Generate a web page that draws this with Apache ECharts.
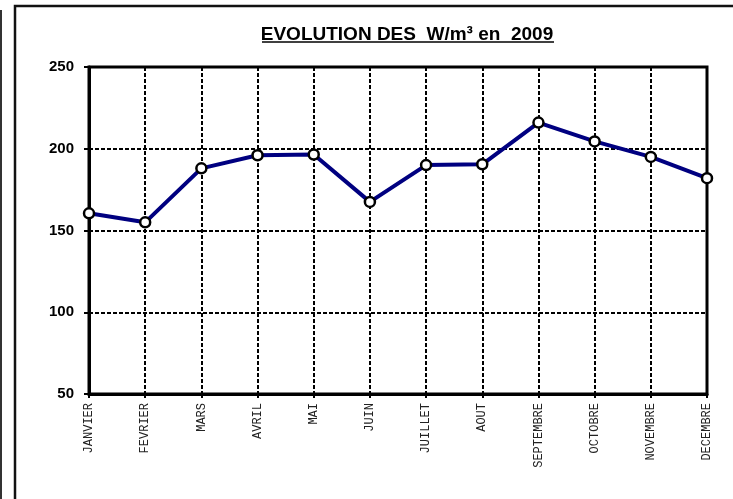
<!DOCTYPE html>
<html>
<head>
<meta charset="utf-8">
<script src="https://cdn.jsdelivr.net/npm/echarts@6/dist/echarts.min.js"></script>
<style>
  html, body { margin: 0; padding: 0; background: #fff; }
  #chart { width: 733px; height: 499px; }
</style>
</head>
<body>
<div id="chart"></div>
<script>
// donnees
var mois = ['JANVIER', 'FEVRIER', 'MARS', 'AVRIL', 'MAI', 'JUIN', 'JUILLET', 'AOUT', 'SEPTEMBRE', 'OCTOBRE', 'NOVEMBRE', 'DECEMBRE'];
var valeurs = [160.5, 155, 188, 196, 196.5, 167.5, 190, 190.5, 216, 204.5, 195, 182];
var titre = 'EVOLUTION DES  W/m³ en  2009';

var myChart = echarts.init(document.getElementById('chart'));

var dashed = { color: '#000', width: 2, type: [4, 2] };

var option = {
    backgroundColor: '#fff',
    animation: false,
    title: {
        text: titre,
        left: 402,
        textAlign: 'center',
        top: 20,
        textStyle: {
            fontFamily: 'Liberation Sans, Arial',
            fontWeight: 'bold',
            fontSize: 19,
            color: '#000'
        }
    },
    graphic: [
        // cadre exterieur
        { type: 'rect', shape: { x: 15, y: 6, width: 760, height: 520 },
          style: { fill: null, stroke: '#111', lineWidth: 2.5 }, silent: true },
        { type: 'line', shape: { x1: 1, y1: 10, x2: 1, y2: 499 },
          style: { stroke: '#333', lineWidth: 2 }, silent: true },
        // soulignement du titre
        { type: 'line', shape: { x1: 262, y1: 42, x2: 554, y2: 42 },
          style: { stroke: '#000', lineWidth: 1.5 }, silent: true }
    ],
    grid: {
        left: 89,
        right: 26,
        top: 67,
        bottom: 105,
        show: true,
        borderColor: '#000',
        borderWidth: 3,
        containLabel: false
    },
    xAxis: {
        type: 'category',
        data: mois,
        boundaryGap: false,
        axisLine: { lineStyle: { color: '#000', width: 3 } },
        axisTick: { show: true, inside: false, length: 4, lineStyle: { color: '#000', width: 2 } },
        axisLabel: {
            rotate: 90,
            interval: 0,
            margin: 9,
            fontFamily: 'Liberation Mono, Courier New, monospace',
            fontSize: 12,
            color: '#222'
        },
        splitLine: { show: true, lineStyle: dashed }
    },
    yAxis: {
        type: 'value',
        min: 50,
        max: 250,
        interval: 50,
        axisLine: { show: true, lineStyle: { color: '#000', width: 3 } },
        axisTick: { show: true, length: 5, lineStyle: { color: '#000', width: 2 } },
        axisLabel: {
            margin: 15,
            fontFamily: 'Liberation Sans, Arial',
            fontWeight: 'bold',
            fontSize: 15,
            color: '#000'
        },
        splitLine: { show: true, lineStyle: dashed }
    },
    series: [
        {
            name: 'W/m3',
            type: 'line',
            data: valeurs,
            symbol: 'circle',
            symbolSize: 10,
            lineStyle: { color: '#000080', width: 4 },
            itemStyle: { color: '#fff', borderColor: '#000', borderWidth: 2.5 },
            z: 5
        }
    ]
};

myChart.setOption(option);
</script>
</body>
</html>
